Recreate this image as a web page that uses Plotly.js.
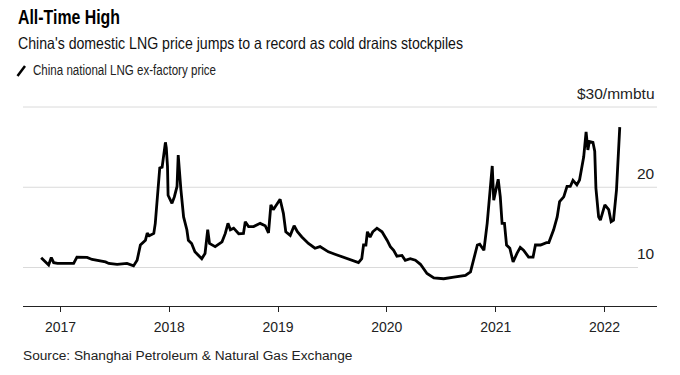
<!DOCTYPE html>
<html>
<head>
<meta charset="utf-8">
<script src="https://cdn.plot.ly/plotly-3.0.1.min.js"></script>
<style>html,body{margin:0;padding:0;background:#fff;}#chart{width:680px;height:375px;}</style>
</head>
<body>
<div id="chart"></div>
<script>
const dates = ['2016-10-28','2016-11-22','2016-12-01','2016-12-09','2016-12-22','2017-01-21','2017-02-14','2017-02-25','2017-03-31','2017-04-17',
'2017-05-15','2017-06-01','2017-06-12','2017-07-10','2017-08-12','2017-09-03','2017-09-15','2017-09-26','2017-10-13','2017-10-19',
'2017-10-26','2017-11-10','2017-11-15','2017-11-23','2017-11-30','2017-12-08','2017-12-13','2017-12-19','2017-12-22','2017-12-26',
'2017-12-28','2018-01-10','2018-01-18','2018-01-27','2018-01-31','2018-02-04','2018-02-09','2018-02-18','2018-03-01','2018-03-06',
'2018-03-17','2018-03-28','2018-04-20','2018-05-01','2018-05-10','2018-05-16','2018-06-04','2018-06-27','2018-07-08','2018-07-17',
'2018-07-25','2018-08-05','2018-08-22','2018-09-07','2018-09-13','2018-09-24','2018-10-11','2018-11-02','2018-11-19','2018-11-30',
'2018-12-08','2018-12-16','2018-12-26','2019-01-08','2019-01-19','2019-01-27','2019-02-11','2019-02-24','2019-03-07','2019-03-22',
'2019-04-13','2019-05-05','2019-05-22','2019-06-19','2019-07-11','2019-08-08','2019-08-25','2019-09-11','2019-09-28','2019-10-09',
'2019-10-15','2019-10-23','2019-10-28','2019-11-06','2019-11-15','2019-11-29','2019-12-16','2020-01-02','2020-01-13','2020-01-24',
'2020-02-04','2020-02-21','2020-03-03','2020-03-20','2020-04-06','2020-04-23','2020-05-15','2020-06-07','2020-07-10','2020-08-13',
'2020-09-21','2020-10-08','2020-10-19','2020-10-31','2020-11-08','2020-11-22','2020-12-03','2020-12-12','2020-12-20','2020-12-25',
'2021-01-02','2021-01-09','2021-01-16','2021-01-22','2021-01-30','2021-02-06','2021-02-17','2021-02-28','2021-03-13','2021-03-24',
'2021-04-04','2021-04-21','2021-05-06','2021-05-14','2021-05-31','2021-06-20','2021-06-28','2021-07-14','2021-07-26','2021-08-03',
'2021-08-17','2021-08-28','2021-09-08','2021-09-17','2021-09-30','2021-10-09','2021-10-23','2021-10-31','2021-11-06','2021-11-11',
'2021-11-23','2021-11-29','2021-12-03','2021-12-12','2021-12-18','2022-01-02','2022-01-15','2022-01-23','2022-01-31','2022-02-10',
'2022-02-21'];

const prices = [11.2,10.3,11.25,10.6,10.5,10.45,10.5,11.3,11.25,11.0,
10.8,10.7,10.5,10.4,10.5,10.2,10.9,12.8,13.4,14.3,
13.95,14.25,15.5,19.7,22.4,22.5,23.8,25.6,24.9,22.6,
19.0,18.0,18.8,20.1,24.0,21.75,19.7,16.3,14.7,13.4,
13.0,11.95,11.1,11.75,14.7,13.0,12.6,13.2,14.25,15.5,
14.7,14.9,14.2,14.25,15.7,15.1,15.1,15.5,15.2,14.3,
17.8,17.2,17.8,18.5,16.75,14.45,14.0,15.2,14.45,13.8,
13.0,12.4,12.6,11.95,11.65,11.3,11.1,10.8,10.6,11.1,
12.8,12.8,14.45,13.8,14.45,14.9,14.45,13.4,12.6,12.15,
11.4,11.5,10.9,11.1,10.9,10.4,9.25,8.7,8.6,8.8,
9.0,9.45,10.9,12.8,12.9,12.15,15.5,19.25,22.65,18.4,
19.65,21.0,18.8,15.5,15.5,12.8,12.4,10.7,11.75,12.5,
12.15,11.3,11.3,12.8,12.8,13.1,13.1,14.7,16.3,18.2,
18.8,20.1,20.1,20.85,20.3,20.9,23.8,26.9,24.65,25.7,
25.6,24.5,19.9,16.3,15.9,17.8,17.2,15.7,15.9,19.65,
27.5];

const xTickVals = ['2017-01-01','2018-01-01','2019-01-01','2020-01-01','2021-01-01','2022-01-01'];
const xTickText = ['2017','2018','2019','2020','2021','2022'];
const yGridVals = [10, 20, 30];
const yTickText = ['10', '20', '$30/mmbtu'];

const titleText = 'All-Time High';
const subtitleText = "China's domestic LNG price jumps to a record as cold drains stockpiles";
const legendText = 'China national LNG ex-factory price';
const sourceText = 'Source: Shanghai Petroleum &amp; Natural Gas Exchange';

const REG = "'Liberation Sans', Arial, Helvetica, sans-serif";

const shapes = yGridVals.map(v => ({
  type: 'line', xref: 'paper', yref: 'y', x0: 0, x1: v === 10 ? 0.97 : 1, y0: v, y1: v,
  line: {color: '#dadada', width: 1}, layer: 'below'
}));
// legend slash icon
shapes.push({type: 'line', xref: 'paper', yref: 'paper',
  x0: (17.5 - 23) / 634, x1: (25 - 23) / 634, y0: (306 - 76) / 203, y1: (306 - 66) / 203,
  line: {color: '#000', width: 2.5}});

const annotations = yGridVals.map((v, i) => ({
  xref: 'paper', yref: 'y', x: 1, y: v, xanchor: 'right', yanchor: 'middle', yshift: 14,
  text: yTickText[i], showarrow: false, font: {family: REG, size: 15.5, color: '#222'}
}));
annotations.push(
  {xref: 'paper', yref: 'paper', x: (16 - 23) / 634, y: (306 - 16) / 203, xanchor: 'left', yanchor: 'middle', align: 'left',
   text: titleText, showarrow: false, font: {family: REG, size: 21, weight: 'bold', color: '#000'}},
  {xref: 'paper', yref: 'paper', x: (16 - 23) / 634, y: (306 - 43) / 203, xanchor: 'left', yanchor: 'middle', align: 'left',
   text: subtitleText, showarrow: false, font: {family: REG, size: 16.5, color: '#111'}},
  {xref: 'paper', yref: 'paper', x: (31 - 23) / 634, y: (306 - 70) / 203, xanchor: 'left', yanchor: 'middle', align: 'left',
   text: legendText, showarrow: false, font: {family: REG, size: 14, color: '#222'}},
  {xref: 'paper', yref: 'paper', x: (21 - 23) / 634, y: (306 - 355) / 203, xanchor: 'left', yanchor: 'middle', align: 'left',
   text: sourceText, showarrow: false, font: {family: REG, size: 13.7, color: '#222'}}
);

const trace = {
  x: dates, y: prices, type: 'scatter', mode: 'lines',
  line: {color: '#000', width: 2.8, shape: 'linear'}, hoverinfo: 'skip'
};

const layout = {
  width: 680, height: 375,
  margin: {l: 23, r: 23, t: 103, b: 69, pad: 0},
  paper_bgcolor: '#fff', plot_bgcolor: '#fff',
  showlegend: false,
  xaxis: {
    type: 'date', range: ['2016-08-28', '2022-06-26'],
    tickvals: xTickVals, ticktext: xTickText,
    ticks: 'outside', ticklen: 5, tickwidth: 1, tickcolor: '#222',
    ticklabelstandoff: 3,
    showline: true, linecolor: '#222', linewidth: 1,
    showgrid: false, zeroline: false,
    tickfont: {family: REG, size: 14, color: '#222'}
  },
  yaxis: {
    range: [5.2, 30.5], showgrid: false, zeroline: false, showticklabels: false, ticks: '', showline: false
  },
  shapes: shapes,
  annotations: annotations
};

// condensed header typography (reference uses a narrow face): target rendered widths in px
const condensedWidths = {};
condensedWidths[titleText] = 102;
condensedWidths[subtitleText] = 445;
condensedWidths[legendText] = 183;

Plotly.newPlot('chart', [trace], layout, {staticPlot: true, displayModeBar: false}).then(gd => {
  gd.querySelectorAll('text.annotation-text').forEach(t => {
    const w = condensedWidths[t.textContent];
    if (w) {
      t.setAttribute('textLength', w);
      t.setAttribute('lengthAdjust', 'spacingAndGlyphs');
    }
  });
});
</script>
</body>
</html>
